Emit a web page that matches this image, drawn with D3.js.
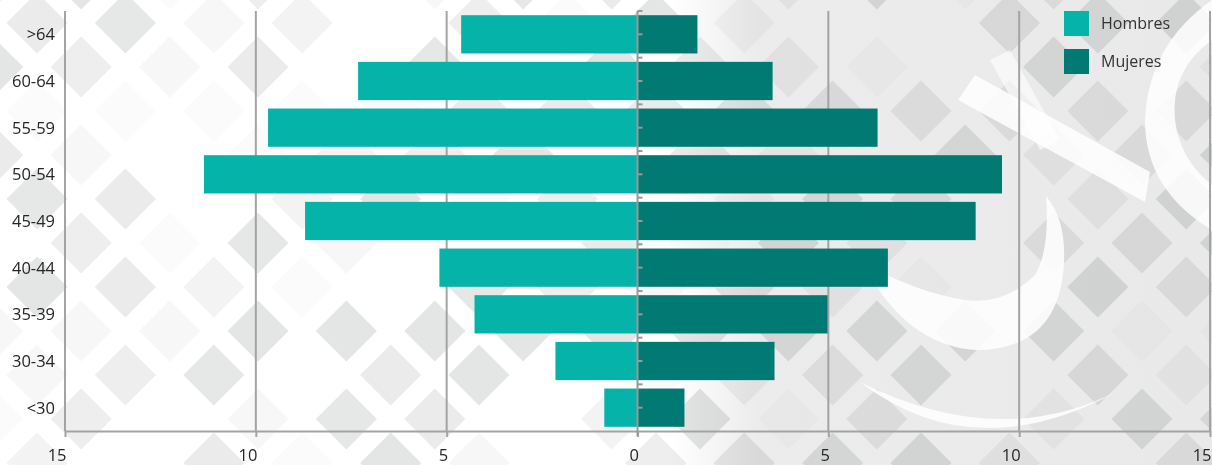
<!DOCTYPE html>
<html>
<head>
<meta charset="utf-8">
<script src="https://cdn.jsdelivr.net/npm/d3@7"></script>
<style>
  html, body { margin: 0; padding: 0; background: #ffffff; }
  svg { display: block; font-family: "Open Sans", "Noto Sans", sans-serif; }
</style>
</head>
<body>
<svg id="chart" width="1212" height="465"></svg>
<script>
// ---- data ----
const ageGroups = [">64", "60-64", "55-59", "50-54", "45-49", "40-44", "35-39", "30-34", "<30"];
const hombres = [4.62, 7.32, 9.68, 11.36, 8.71, 5.19, 4.27, 2.15, 0.87];
const mujeres = [1.57, 3.54, 6.29, 9.55, 8.86, 6.56, 4.98, 3.59, 1.23];
const xTickValues = [-15, -10, -5, 0, 5, 10, 15];
const seriesNames = ["Hombres", "Mujeres"];
const seriesColors = ["#05b3a8", "#007a72"];

const W = 1212, H = 465;
const svg = d3.select("#chart");

// ---- decorative background ----
const bg = svg.append("g");
bg.append("rect").attr("width", W).attr("height", H).attr("fill", "#ffffff");
const shades = ["#e6e7e7", "#f7f7f7", "#ffffff", "#eeeeee", "#fbfbfb", "#e4e5e5", "#f3f3f3", "#ffffff", "#ebebeb"];
const step = 44.2, stepY = 44, x0 = 37, y0 = 199, half = 30.5;
const cells = [];
for (let i = -2; i <= 28; i++) {
  for (let j = -6; j <= 7; j++) {
    if (((i + j) % 2 + 2) % 2 !== 0) continue;
    cells.push({ cx: x0 + i * step, cy: y0 + j * stepY, k: ((i * 4 + j * 7 + ((i * j) % 5 + 5) % 5) % 9 + 9) % 9 });
  }
}
bg.selectAll("path.dia").data(cells).join("path")
  .attr("class", "dia")
  .attr("d", d => `M${d.cx},${d.cy - half}L${d.cx + half},${d.cy}L${d.cx},${d.cy + half}L${d.cx - half},${d.cy}Z`)
  .attr("fill", d => shades[d.k]);

const defs = svg.append("defs");
const grad = defs.append("linearGradient").attr("id", "rg").attr("x1", "0").attr("x2", "1").attr("y1", "0").attr("y2", "0");
grad.append("stop").attr("offset", "0").attr("stop-color", "#ffffff");
grad.append("stop").attr("offset", "0.16").attr("stop-color", "#ececec");
grad.append("stop").attr("offset", "1").attr("stop-color", "#e9e9e9");
bg.append("rect").attr("x", 670).attr("y", 0).attr("width", W - 670).attr("height", H)
  .attr("fill", "url(#rg)").style("mix-blend-mode", "multiply");

// white watermark shapes
const wm = bg.append("g").attr("fill", "#ffffff").attr("fill-opacity", 0.85);
// hook / crescent
wm.append("path").attr("d",
  "M862,262 Q905,345 975,350 Q1060,350 1064,262 Q1066,220 1046,196 Q1050,250 1035,275 Q1005,305 965,300 Q915,292 862,262 Z");
// thin bottom arc
wm.append("path").attr("d",
  "M860,382 Q975,470 1120,390 Q1000,452 860,382 Z");
// chevron band top right
wm.append("path").attr("d", "M958,100 L975,75 L1150,172 L1145,202 Z");
wm.append("path").attr("d", "M990,60 L1010,50 L1060,140 L1040,150 Z").attr("fill-opacity", 0.6);
// curve at far right
wm.append("path").attr("d",
  "M1212,0 L1212,40 Q1170,70 1175,120 Q1180,160 1212,185 L1212,230 Q1145,190 1145,120 Q1148,45 1212,0 Z");

// ---- scales ----
const x = d3.scaleLinear().domain([-15, 15]).range([65, 1210]);
const y = d3.scaleBand().domain(ageGroups).range([11, 431]).paddingInner(0.18).paddingOuter(0.09);

const rows = ageGroups.map((g, i) => ({ g, h: hombres[i], m: mujeres[i] }));

// grid lines
svg.append("g").selectAll("line").data(xTickValues.filter(v => v !== 0)).join("line")
  .attr("x1", d => x(d)).attr("x2", d => x(d))
  .attr("y1", 11).attr("y2", 431)
  .attr("stroke", "#a3a3a3").attr("stroke-width", 2);

// bars
svg.append("g").selectAll("rect").data(rows).join("rect")
  .attr("x", d => x(-d.h)).attr("width", d => x(0) - x(-d.h))
  .attr("y", d => y(d.g)).attr("height", y.bandwidth())
  .attr("fill", seriesColors[0]);
svg.append("g").selectAll("rect").data(rows).join("rect")
  .attr("x", x(0)).attr("width", d => x(d.m) - x(0))
  .attr("y", d => y(d.g)).attr("height", y.bandwidth())
  .attr("fill", seriesColors[1]);

// bottom axis
const xAxis = d3.axisBottom(x).tickValues(xTickValues).tickFormat(d => Math.abs(d)).tickSize(6).tickSizeOuter(0);
const gx = svg.append("g").attr("transform", "translate(0,431)").call(xAxis);
gx.select(".domain").attr("stroke", "#a3a3a3").attr("stroke-width", 2);
gx.selectAll(".tick line").attr("stroke", "#a3a3a3").attr("stroke-width", 2);
gx.selectAll(".tick text").attr("font-size", 16.5).attr("fill", "#262626")
  .attr("text-anchor", "end").attr("dx", 1).attr("y", 0).attr("dy", 30)
  .style("font-family", "'Open Sans', sans-serif");

// center vertical axis with minor ticks
const cx = x(0);
svg.append("line").attr("x1", cx).attr("x2", cx).attr("y1", 11).attr("y2", 436)
  .attr("stroke", "#999999").attr("stroke-width", 2);
const tickYs = [];
ageGroups.forEach(g => { tickYs.push(y(g) - y.step() * y.paddingInner() / 2); tickYs.push(y(g) + y.bandwidth() / 2); });
svg.append("g").selectAll("line").data(tickYs).join("line")
  .attr("x1", cx).attr("x2", cx + 5).attr("y1", d => d).attr("y2", d => d)
  .attr("stroke", "#999999").attr("stroke-width", 2);

// y labels
svg.append("g").selectAll("text").data(ageGroups).join("text")
  .attr("x", 55).attr("y", d => y(d) + y.bandwidth() / 2).attr("dy", "0.36em")
  .attr("text-anchor", "end").attr("font-size", 16.5).attr("fill", "#262626")
  .text(d => d);

// legend
const lg = svg.append("g").selectAll("g").data(seriesNames).join("g")
  .attr("transform", (d, i) => `translate(1064,${11 + i * 38})`);
lg.append("rect").attr("width", 25).attr("height", 25).attr("fill", (d, i) => seriesColors[i]);
lg.append("text").attr("x", 37).attr("y", 12.5).attr("dy", "0.36em")
  .attr("font-size", 16).attr("fill", "#333333").text(d => d);
</script>
</body>
</html>
